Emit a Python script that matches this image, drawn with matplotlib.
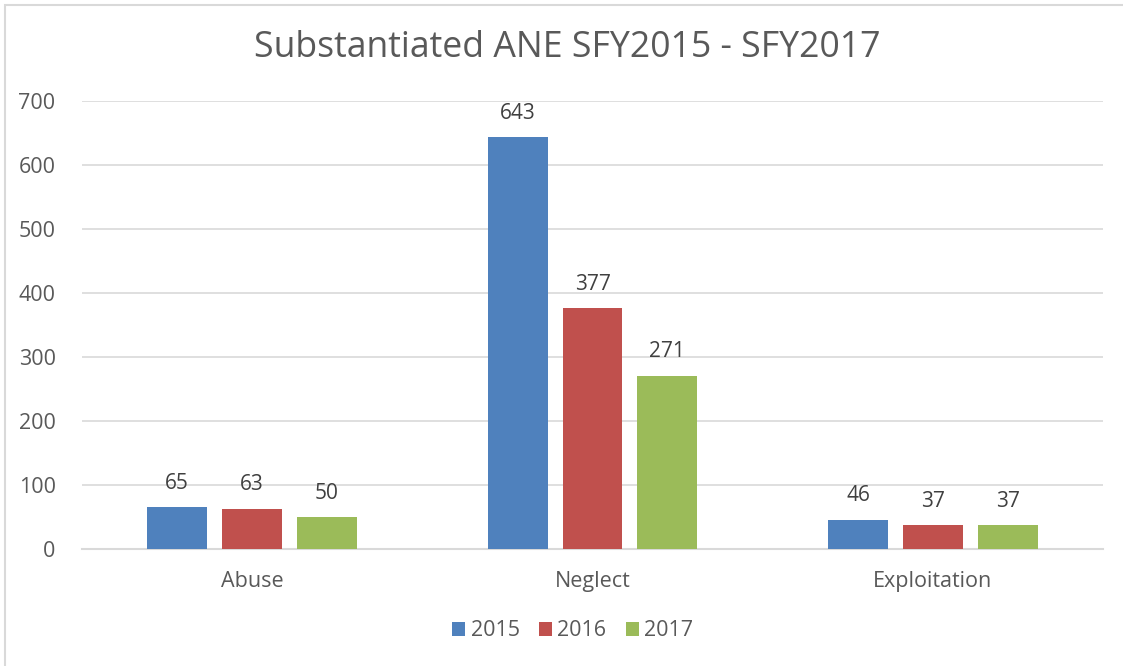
import matplotlib.pyplot as plt
import numpy as np
from matplotlib.patches import Rectangle

plt.rcParams['font.family'] = ['Open Sans', 'DejaVu Sans']

# 数据
categories = ['Abuse', 'Neglect', 'Exploitation']
years = ['2015', '2016', '2017']
vals_2015 = [65, 643, 46]
vals_2016 = [63, 377, 37]
vals_2017 = [50, 271, 37]
y_ticks = [0, 100, 200, 300, 400, 500, 600, 700]

colors = ['#4F81BD', '#C0504D', '#9BBB59']
text_color = '#595959'

fig = plt.figure(figsize=(11.23, 6.66), dpi=100)
ax = fig.add_axes([82 / 1123, 1 - 549 / 666, (1103 - 82) / 1123, (549 - 101) / 666])

x = np.arange(len(categories))
width = 0.176
offset = 0.22
series = [vals_2015, vals_2016, vals_2017]
for i, (vals, c, yr) in enumerate(zip(series, colors, years)):
    bars = ax.bar(x + (i - 1) * offset, vals, width, color=c, label=yr, zorder=3)
    for b, v in zip(bars, vals):
        ax.text(b.get_x() + b.get_width() / 2, v + 37, str(v), ha='center', va='center',
                fontsize=15, color='#404040')

ax.set_xlim(-0.5, 2.5)
ax.set_ylim(0, 700)
ax.set_yticks(y_ticks)
ax.set_xticks(x)
ax.set_xticklabels(categories)
ax.grid(axis='y', color='#D9D9D9', linewidth=1.2, zorder=0)
for s in ['top', 'right', 'left']:
    ax.spines[s].set_visible(False)
ax.spines['bottom'].set_color('#D9D9D9')
ax.spines['bottom'].set_linewidth(1.5)
ax.tick_params(axis='both', length=0, labelsize=15.5, labelcolor=text_color)
ax.tick_params(axis='x', pad=16)
ax.tick_params(axis='y', pad=19)

fig.text(0.505, 1 - 48 / 666, 'Substantiated ANE SFY2015 - SFY2017', ha='center', va='center',
         fontsize=25.7, color=text_color)

fig.legend(loc='center', bbox_to_anchor=(0.51, 1 - 631 / 666), ncol=3, frameon=False,
           fontsize=15.5, handlelength=0.6, handleheight=0.6, handletextpad=0.25,
           columnspacing=0.9, labelcolor=text_color)

# 图表外框
fig.patches.append(Rectangle((5 / 1123, -0.1), 1.2, 1 - 5 / 666 + 0.1, transform=fig.transFigure,
                             fill=False, edgecolor='#D9D9D9', linewidth=1.5))

plt.savefig('out.png', dpi=100)
